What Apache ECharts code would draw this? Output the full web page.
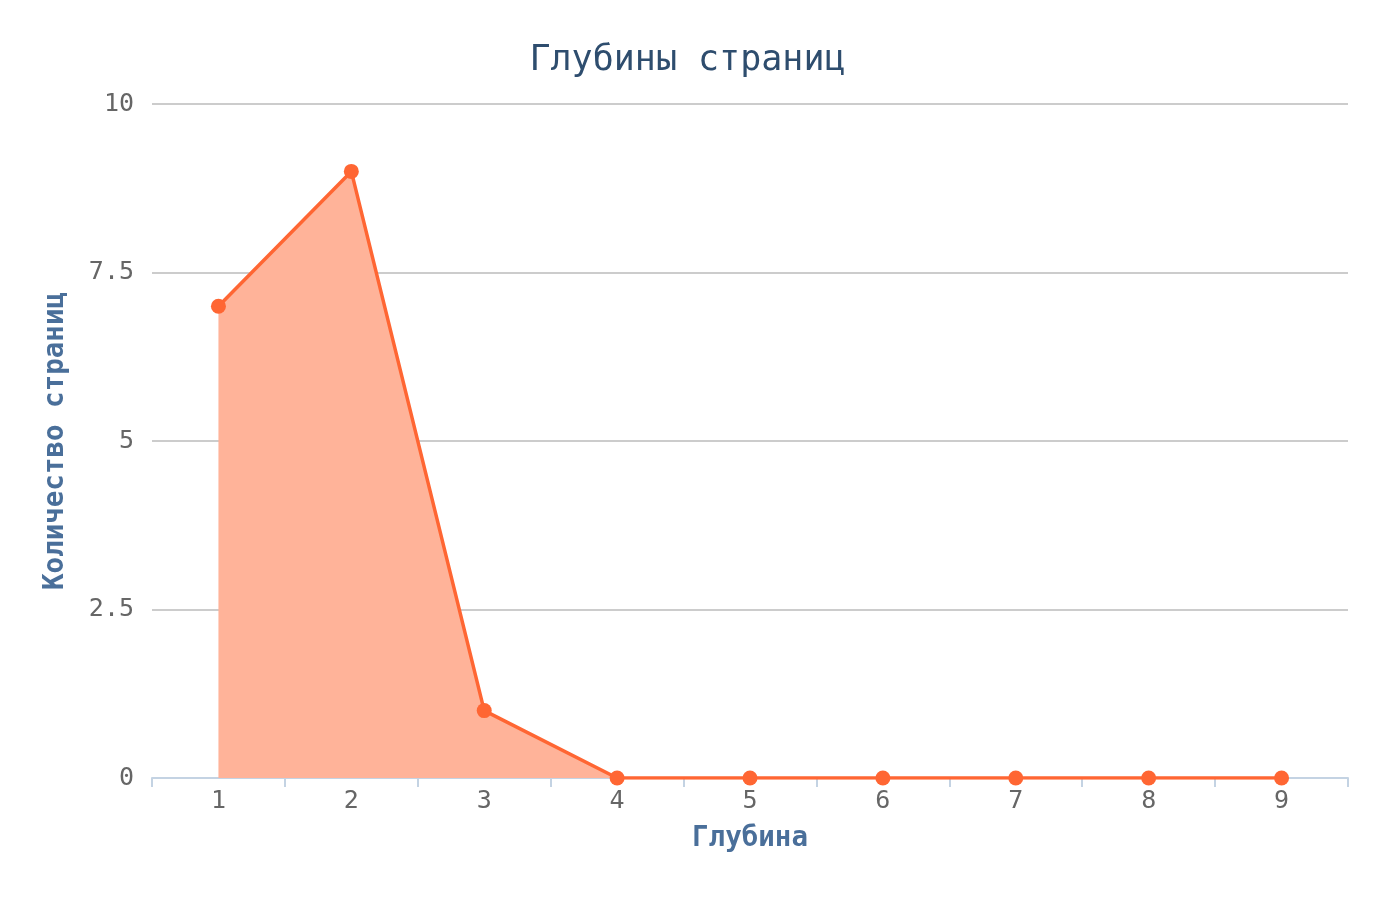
<!DOCTYPE html>
<html>
<head>
<meta charset="utf-8">
<script src="https://cdn.jsdelivr.net/npm/echarts@6/dist/echarts.min.js"></script>
<style>
html,body{margin:0;padding:0;background:#fff;}
#chart{width:1375px;height:917px;}
</style>
</head>
<body>
<div id="chart"></div>
<script>
const titleText = 'Глубины страниц';
const xAxisName = 'Глубина';
const yAxisName = 'Количество страниц';
const categories = ['1','2','3','4','5','6','7','8','9'];
const pageCounts = [7, 9, 1, 0, 0, 0, 0, 0, 0];

const chart = echarts.init(document.getElementById('chart'));
chart.setOption({
  backgroundColor: '#ffffff',
  title: {
    text: titleText,
    left: 'center',
    top: 38,
    textStyle: {fontFamily: 'DejaVu Sans Mono', fontSize: 35, fontWeight: 'normal', color: '#2e4d6e'}
  },
  grid: {left: 152, right: 27, top: 104, bottom: 139},
  xAxis: {
    type: 'category',
    data: categories,
    boundaryGap: true,
    name: xAxisName,
    nameLocation: 'middle',
    nameGap: 47,
    nameTextStyle: {fontFamily: 'DejaVu Sans Mono', fontSize: 27.5, fontWeight: 'bold', color: '#4a6f9a', verticalAlign: 'top'},
    axisLine: {lineStyle: {color: '#c4d3e3', width: 2}},
    axisTick: {show: true, length: 9, lineStyle: {color: '#c4d3e3', width: 2}},
    axisLabel: {fontFamily: 'DejaVu Sans Mono', fontSize: 25, color: '#666', margin: 11}
  },
  yAxis: {
    type: 'value',
    min: 0, max: 10, interval: 2.5,
    name: yAxisName,
    nameLocation: 'middle',
    nameRotate: 90,
    nameGap: 82,
    nameTextStyle: {fontFamily: 'DejaVu Sans Mono', fontSize: 27.5, fontWeight: 'bold', color: '#4a6f9a'},
    axisLine: {show: false},
    axisTick: {show: false},
    axisLabel: {fontFamily: 'DejaVu Sans Mono', fontSize: 25, color: '#666', margin: 18, padding: [10, 0, 0, 0]},
    splitLine: {lineStyle: {color: '#cccccc', width: 2}}
  },
  series: [{
    type: 'line',
    data: pageCounts,
    symbol: 'circle',
    symbolSize: 15,
    itemStyle: {color: '#ff6633'},
    lineStyle: {color: '#ff6633', width: 3.5},
    areaStyle: {color: '#ffb399', opacity: 1},
    animation: false
  }]
});
</script>
</body>
</html>
